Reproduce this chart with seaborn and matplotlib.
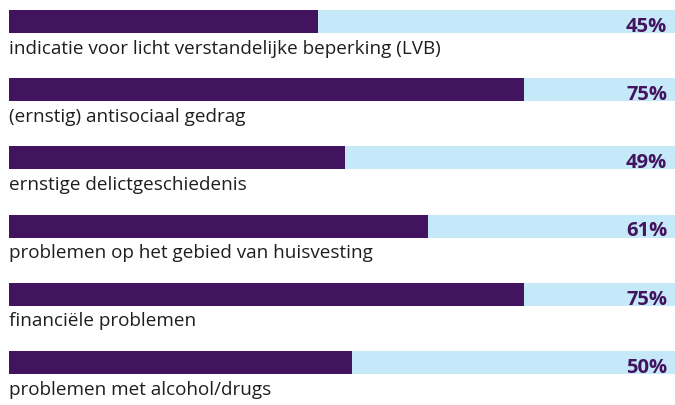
import matplotlib
matplotlib.use('Agg')
import matplotlib.pyplot as plt
import seaborn as sns
import pandas as pd

# data
labels = [
    'indicatie voor licht verstandelijke beperking (LVB)',
    '(ernstig) antisociaal gedrag',
    'ernstige delictgeschiedenis',
    'problemen op het gebied van huisvesting',
    'financiële problemen',
    'problemen met alcohol/drugs',
]
percentages = [45, 75, 49, 61, 75, 50]
full_scale = [100, 100, 100, 100, 100, 100]

purple = '#42145f'
light_blue = '#c6e9f9'

sns.set_theme(style='white')
plt.rcParams['font.family'] = ['Open Sans', 'DejaVu Sans']

df = pd.DataFrame({'label': labels, 'pct': percentages, 'track': full_scale})

fig = plt.figure(figsize=(6.75, 4.05), dpi=100)
ax = fig.add_axes([9 / 675, 0, 666 / 675, 1])

bar_h = 0.337
sns.barplot(data=df, x='track', y='label', orient='h', color=light_blue,
            width=bar_h, saturation=1, linewidth=0, ax=ax)
sns.barplot(data=df, x='pct', y='label', orient='h', color=purple,
            width=bar_h, saturation=1, linewidth=0, ax=ax)

ax.set_xlim(0, 97)
ax.set_ylim(5.623, -0.315)

for i, (lab, pct) in enumerate(zip(labels, percentages)):
    ax.text(0, i + 0.47, lab, ha='left', va='baseline', fontsize=13.6,
            color='#1e1e1e')
    ax.text(0.988, i + 0.15, f'{pct}%', ha='right', va='baseline',
            fontsize=14.5, fontweight='bold', color=purple,
            transform=ax.get_yaxis_transform())

ax.set_xlabel('')
ax.set_ylabel('')
ax.set_xticks([])
ax.set_yticks([])
for s in ax.spines.values():
    s.set_visible(False)

fig.savefig('out.png', dpi=100)
